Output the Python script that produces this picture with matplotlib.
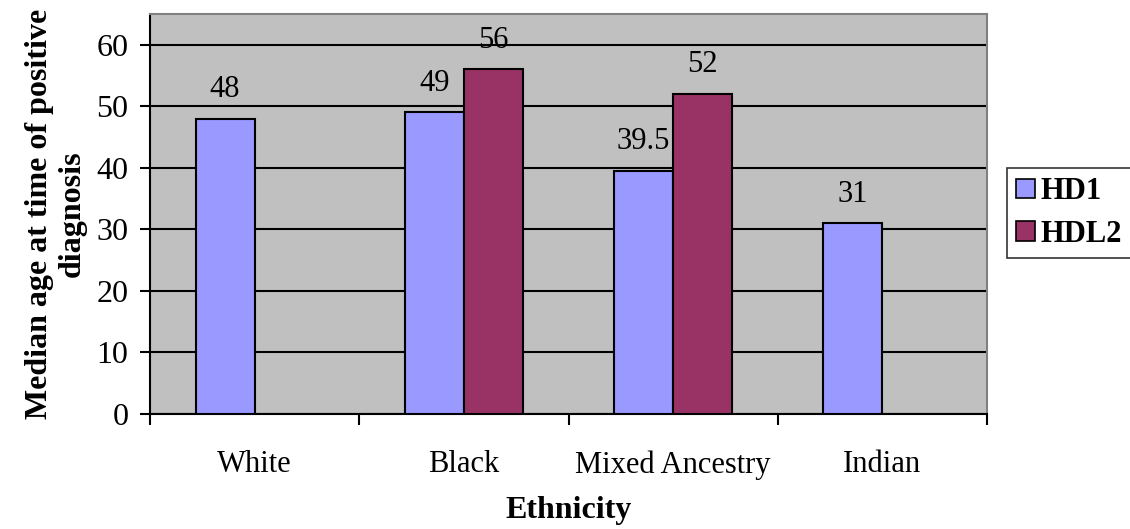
import numpy as np
import matplotlib
matplotlib.use("Agg")
import matplotlib.pyplot as plt
from matplotlib.patches import Patch

plt.rcParams["font.family"] = ["Liberation Serif", "DejaVu Serif"]

categories = ["White", "Black", "Mixed Ancestry", "Indian"]
hd1 = [48, 49, 39.5, 31]
hdl2 = [np.nan, 56, 52, np.nan]
hd1_labels = ["48", "49", "39.5", "31"]
hdl2_labels = ["", "56", "52", ""]

fig = plt.figure(figsize=(11.3, 5.29), dpi=100)
ax = fig.add_axes([150 / 1130, 1 - 414 / 529, 837 / 1130, 400 / 529])
ax.set_facecolor("#C0C0C0")

x = np.arange(len(categories))
w = 59 / 209
b1 = ax.bar(x - w / 2, hd1, w, color="#9999FF", edgecolor="black", linewidth=1.5, zorder=3)
b2 = ax.bar(x + w / 2, hdl2, w, color="#993366", edgecolor="black", linewidth=1.5, zorder=3)

for rect, val, lab in zip(b1, hd1, hd1_labels):
    ax.annotate(lab, (rect.get_x() + rect.get_width() / 2, val), xytext=(0, 21),
                textcoords="offset points", ha="center", va="center", fontsize=22)
for rect, val, lab in zip(b2, hdl2, hdl2_labels):
    if lab:
        ax.annotate(lab, (rect.get_x() + rect.get_width() / 2, val), xytext=(0, 21),
                    textcoords="offset points", ha="center", va="center", fontsize=22)

ax.set_xlim(-0.5, len(categories) - 0.5)
ax.set_ylim(0, 65)
ax.set_yticks(np.arange(0, 61, 10))
ax.yaxis.grid(True, color="black", linewidth=1.5, zorder=1)
ax.set_axisbelow(True)

ax.set_xticks(x)
ax.set_xticklabels(categories, fontsize=22)
ax.set_xticks(np.arange(-0.5, len(categories), 1), minor=True)
ax.tick_params(axis="x", which="major", length=0, pad=26)
ax.tick_params(axis="x", which="minor", length=8, width=1.5, direction="out")
ax.tick_params(axis="y", length=7.5, width=1.5, labelsize=23, pad=8)

for s in ["left", "bottom"]:
    ax.spines[s].set_color("black")
    ax.spines[s].set_linewidth(1.5)
for s in ["top", "right"]:
    ax.spines[s].set_color("#808080")
    ax.spines[s].set_linewidth(1.5)

ax.set_ylabel("Median age at time of positive\ndiagnosis", fontsize=23,
              fontweight="bold", labelpad=7, linespacing=1.15)
ax.set_xlabel("Ethnicity", fontsize=23, fontweight="bold", labelpad=12)

handles = [Patch(facecolor="#9999FF", edgecolor="black", linewidth=1.2),
           Patch(facecolor="#993366", edgecolor="black", linewidth=1.2)]
leg = fig.legend(handles, ["HD1", "HDL2"], loc="upper left",
                 bbox_to_anchor=(1007 / 1130, 1 - 168 / 529),
                 prop={"size": 22, "weight": "bold"}, frameon=True, fancybox=False,
                 edgecolor="black", handlelength=0.6, handleheight=0.6,
                 handletextpad=0.2, borderpad=0.3, labelspacing=0.45, borderaxespad=0)
leg.get_frame().set_linewidth(1.2)

fig.savefig("out.png", dpi=100)
